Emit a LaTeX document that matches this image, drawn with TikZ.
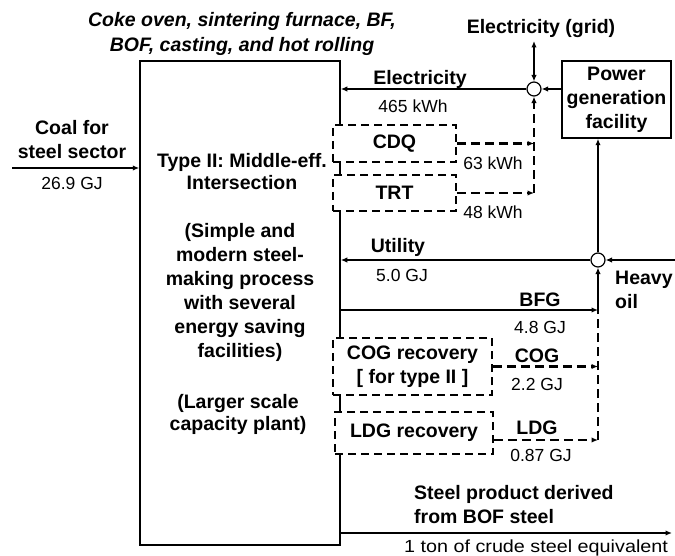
\documentclass[tikz,border=0pt]{standalone}
\usepackage{fontspec}
\setmainfont{Liberation Sans}
\usetikzlibrary{arrows.meta}

\begin{document}
\begin{tikzpicture}[x=1pt,y=-1pt,>={Latex[length=6.5pt,width=5.5pt]},
  proc/.style={draw,line width=1.5pt,fill=white,inner sep=0pt},
  rec/.style={draw,dash pattern=on 8pt off 5pt,line width=1.7pt,fill=white,inner sep=0pt,align=center,font=\fontsize{19.5}{24}\selectfont\bfseries},
  jn/.style={draw,circle,fill=white,minimum size=14pt,inner sep=0pt,line width=1.2pt},
  lbl/.style={align=center,inner sep=0pt,font=\fontsize{19.5}{24}\selectfont\bfseries},
  val/.style={inner sep=0pt,font=\fontsize{17.5}{20}\selectfont},
  flow/.style={->,line width=1.5pt},
  rflow/.style={->,line width=2.2pt,dash pattern=on 9pt off 5pt}]
\useasboundingbox (0,0) rectangle (675,556);
% plant and recovery units
\node[proc,minimum width=200pt,minimum height=484pt] (mb) at (240,303) {};
\node[proc,lbl,minimum width=109pt,minimum height=77pt] (pg) at (616.5,99.5) {Power\\generation\\facility};
\node[rec,minimum width=123pt,minimum height=37pt] (cdq) at (394.5,143.5) {CDQ};
\node[rec,minimum width=123pt,minimum height=36pt] (trt) at (394.5,193) {TRT};
\node[rec,minimum width=159pt,minimum height=57pt] (cog) at (412.5,366.5) {COG recovery\\{[} for type II ]};
\node[rec,minimum width=158pt,minimum height=42pt] (ldg) at (414,433) {LDG recovery};
\node[jn] (j1) at (534,89) {};
\node[jn] (j2) at (598,260) {};
\coordinate (coal) at (12,168);
\coordinate (grid) at (534,41);
\coordinate (oil) at (675,260);
\coordinate (bfg) at (598,310);
\coordinate (prod) at (672,533);
% flows
\draw[flow] (coal) -- (coal -| mb.west);
\draw[flow] (j1) -- (j1 -| mb.east);
\draw[flow] (pg.west |- j1) -- (j1);
\draw[flow,<->] (j1) -- (grid);
\draw[rflow] (cdq) -- (cdq -| j1);
\draw[rflow] (trt) -- (trt -| j1);
\draw[rflow] (trt -| j1) -- (j1);
\draw[flow] (j2) -- (j2 -| mb.east);
\draw[flow] (j2) -- (j2 |- pg.south);
\draw[flow] (oil) -- (j2);
\draw[flow] (bfg -| mb.east) -- (bfg);
\draw[flow] (bfg) -- (j2);
\draw[rflow] (cog) -- (cog -| j2);
\draw[rflow] ([yshift=-7pt]ldg.east) -- ([yshift=-7pt]ldg.east -| j2);
\draw[rflow,-] ([yshift=-7pt]ldg.east -| j2) -- (bfg);
\draw[flow] (prod -| mb.east) -- (prod);
% texts
\node[lbl,font=\fontsize{19.5}{25}\selectfont\bfseries\itshape] (ttl) at (242,34) {Coke oven, sintering furnace, BF,\\BOF, casting, and hot rolling};
\node[lbl,font=\fontsize{19.5}{22}\selectfont\bfseries] (t1) at (242,172) {Type II: Middle-eff.\\Intersection};
\node[lbl] (t2) at (240,292) {(Simple and\\modern steel-\\making process\\with several\\energy saving\\facilities)};
\node[lbl,font=\fontsize{19.5}{22}\selectfont\bfseries] (t3) at (238,414) {(Larger scale\\capacity plant)};
\node[lbl] (lcoal) at (72,140) {Coal for\\steel sector};
\node[val] (vcoal) at (72,183) {26.9 GJ};
\node[lbl] (lgrid) at (541,29) {Electricity (grid)};
\node[lbl] (lel) at (420,79) {Electricity};
\node[val] (vel) at (413,106) {465 kWh};
\node[val] (vcdq) at (493,163) {63 kWh};
\node[val] (vtrt) at (493,212) {48 kWh};
\node[lbl] (lut) at (398,247) {Utility};
\node[val] (vut) at (402,275) {5.0 GJ};
\node[lbl,align=left,anchor=west] (loil) at (615,290) {Heavy\\oil};
\node[lbl] (lbfg) at (540,300) {BFG};
\node[val] (vbfg) at (540,327) {4.8 GJ};
\node[lbl] (lcog) at (537,356) {COG};
\node[val] (vcog) at (537,384) {2.2 GJ};
\node[lbl] (lldg) at (537,428) {LDG};
\node[val] (vldg) at (541,455) {0.87 GJ};
\node[lbl,align=left,anchor=west] (lprod) at (414,505) {Steel product derived\\from BOF steel};
\node[val] (vprod) at (536,548) {\addfontfeature{FakeStretch=1.13}1 ton of crude steel equivalent};
\end{tikzpicture}
\end{document}
